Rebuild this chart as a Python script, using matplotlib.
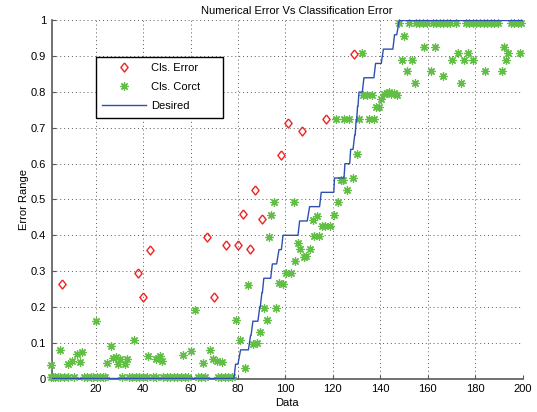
import matplotlib
matplotlib.use("Agg")
import matplotlib.pyplot as plt
import numpy as np

plt.rcParams["font.family"] = ["Liberation Sans", "DejaVu Sans"]
plt.rcParams["font.size"] = 8

# Cls. Error (red diamonds)
err_x = [6, 38, 40, 43, 67, 70, 75, 80, 82, 85, 87, 90, 98, 101, 107, 117, 129]
err_y = [0.265, 0.295, 0.228, 0.36, 0.395, 0.228, 0.373, 0.373, 0.46, 0.362,
         0.527, 0.445, 0.625, 0.713, 0.692, 0.725, 0.907]

# Cls. Corct (green stars) - points lying near zero
low_x = [1, 2, 3, 4, 5, 6.5, 8.5, 11, 15, 16.5, 18, 19, 20.5, 22, 23, 24, 31,
         34, 35.5, 37, 38.5, 40, 41.5, 44, 45.5, 48.5, 50, 51.5, 53, 54.5, 56,
         57.5, 59, 63, 64.5, 66, 71.5, 73, 74.5, 76, 77.5]
low_y = [0.005] * len(low_x)

# Cls. Corct - points lying near one
top_x = [148, 152, 155, 156.5, 158, 159.5, 162, 163.5, 165, 166.5, 168, 169.5,
         172, 176, 177.5, 179, 180.5, 182, 183.5, 185, 186.5, 188, 189.5, 195,
         196.5, 198, 199.5]
top_y = [0.993] * len(top_x)

# Cls. Corct - the rest
mid_x = [1, 5, 8.5, 10, 12.3, 13.4, 14.2, 20.3, 25, 26.4, 27.5, 28.5, 29.3,
         30.2, 32.2, 33.3, 36.1, 42.1, 45.5, 46.3, 47.2, 48.1, 57, 60.3, 62.1,
         65.1, 68.1, 69.4, 71.3, 73.4, 79, 80.8, 83.1, 84.4, 86.3, 88.1, 89.3,
         90.9, 92.4, 93.2, 94, 95.2, 96.2, 97.1, 99, 100.1, 102.2, 103.6, 104.2,
         105.1, 106.3, 107.9, 108.8, 110.2, 111.5, 112, 113.2, 114.1, 115.6,
         116.6, 119, 120.5, 122.1, 123.3, 124.4, 126.1, 128.3, 130, 121.2,
         124.9, 127, 131.2, 135.2, 137.2, 138.2, 139.5, 140.4, 141.5, 142.7,
         143.6, 144.3, 145.7, 147.2, 132.8, 134.5, 136.3, 132.3, 150, 149.3,
         153.2, 151.1, 154.5, 158.4, 163, 161.2, 166.3, 170.4, 172.9, 174.2,
         175.3, 177, 179.2, 184, 191.1, 192.1, 194, 193, 198.9]
mid_y = [0.038, 0.08, 0.04, 0.05, 0.068, 0.046, 0.073, 0.162, 0.044, 0.092,
         0.057, 0.06, 0.04, 0.054, 0.04, 0.054, 0.108, 0.063, 0.055, 0.058,
         0.062, 0.05, 0.067, 0.076, 0.19, 0.044, 0.08, 0.055, 0.05, 0.047,
         0.163, 0.107, 0.03, 0.262, 0.097, 0.1, 0.13, 0.196, 0.163, 0.396,
         0.456, 0.494, 0.196, 0.266, 0.263, 0.295, 0.295, 0.494, 0.328, 0.378,
         0.361, 0.34, 0.342, 0.361, 0.443, 0.397, 0.453, 0.397, 0.427, 0.427,
         0.427, 0.458, 0.494, 0.555, 0.555, 0.527, 0.561, 0.626, 0.725, 0.725,
         0.725, 0.725, 0.725, 0.725, 0.758, 0.758, 0.781, 0.795, 0.798, 0.8,
         0.795, 0.797, 0.793, 0.793, 0.793, 0.793, 0.909, 0.958, 0.89, 0.89,
         0.858, 0.825, 0.925, 0.925, 0.858, 0.844, 0.89, 0.909, 0.825, 0.89,
         0.909, 0.89, 0.858, 0.858, 0.927, 0.909, 0.89, 0.909]

# Desired: staircase levels with start / end of each flat part
des_level = [0, 0.04, 0.08, 0.12, 0.16, 0.2, 0.24, 0.28, 0.32, 0.36, 0.4,
             0.44, 0.48, 0.52, 0.56, 0.6, 0.64, 0.68, 0.72, 0.76, 0.8, 0.84,
             0.88, 0.92, 0.96, 1.0]
des_start = [1, 79, 81.1, 85.3, 86.3, 89.2, 90.1, 90.9, 94.5, 97.3, 99, 106,
             110.2, 115.1, 120.7, 125.1, 127.5, 129.2, 129.8, 130.4, 131,
             133.1, 138, 141.3, 146, 148]
des_end = [78.3, 80, 84.4, 85.5, 88.4, 89.4, 90.3, 93.8, 96.3, 98.3, 105.3,
           109.2, 114.4, 120.4, 124.7, 127.1, 128.5, 129.4, 130, 130.6, 132.4,
           137.3, 140.4, 145.3, 146.9, 200]

line_x = np.column_stack([des_start, des_end]).ravel()
line_y = np.repeat(des_level, 2)

green = "#62bf45"
star = (8, 2, 0)
diamond = [(0, 1), (0.8, 0), (0, -1), (-0.8, 0), (0, 1)]

fig = plt.figure(figsize=(5.37, 4.12), dpi=100)
ax = fig.add_axes([0.0963, 0.0813, 0.877, 0.869])

ax.plot(err_x, err_y, linestyle="none", marker=diamond, markersize=6.5,
        markerfacecolor="none", markeredgecolor="#ee2222", markeredgewidth=1,
        label="Cls. Error", clip_on=False, zorder=3)
ax.plot(low_x + mid_x + top_x, low_y + mid_y + top_y, linestyle="none",
        marker=star, markersize=6, markeredgecolor=green, markerfacecolor=green,
        markeredgewidth=0.9, label="Cls. Corct", clip_on=False, zorder=3)
ax.plot(line_x, line_y, color="#2f4fb0", linewidth=1, label="Desired",
        zorder=4)

ax.set_xlim(1.5, 200)
ax.set_ylim(0, 1)
ax.set_xticks(np.arange(20, 201, 20))
ax.set_yticks(np.arange(0, 1.01, 0.1))
ax.set_yticklabels(["0", "0.1", "0.2", "0.3", "0.4", "0.5", "0.6", "0.7",
                    "0.8", "0.9", "1"])
ax.grid(True, color="0.35", linestyle=(0, (1, 3)), linewidth=0.7)
for s in ["top", "right"]:
    ax.spines[s].set_visible(False)
for s in ["left", "bottom"]:
    ax.spines[s].set_color("0.35")
    ax.spines[s].set_linewidth(1.2)
ax.tick_params(direction="in", length=3, color="0.35", labelsize=8, pad=4)

ax.set_title("Numerical Error Vs Classification Error", fontsize=8, pad=5,
             x=0.52)
ax.set_xlabel("Data", fontsize=8, labelpad=3)
ax.set_ylabel("Error Range", fontsize=8, labelpad=1)

leg = ax.legend(loc="upper left", bbox_to_anchor=(0.0934, 0.766, 0.27, 0.133),
                mode="expand", borderaxespad=0, handlelength=3.9,
                handletextpad=0.5, labelspacing=0.8, borderpad=0.6,
                fancybox=False, framealpha=1, edgecolor="black", fontsize=8)
leg.get_frame().set_linewidth(1)

fig.savefig("out.png", dpi=100)
